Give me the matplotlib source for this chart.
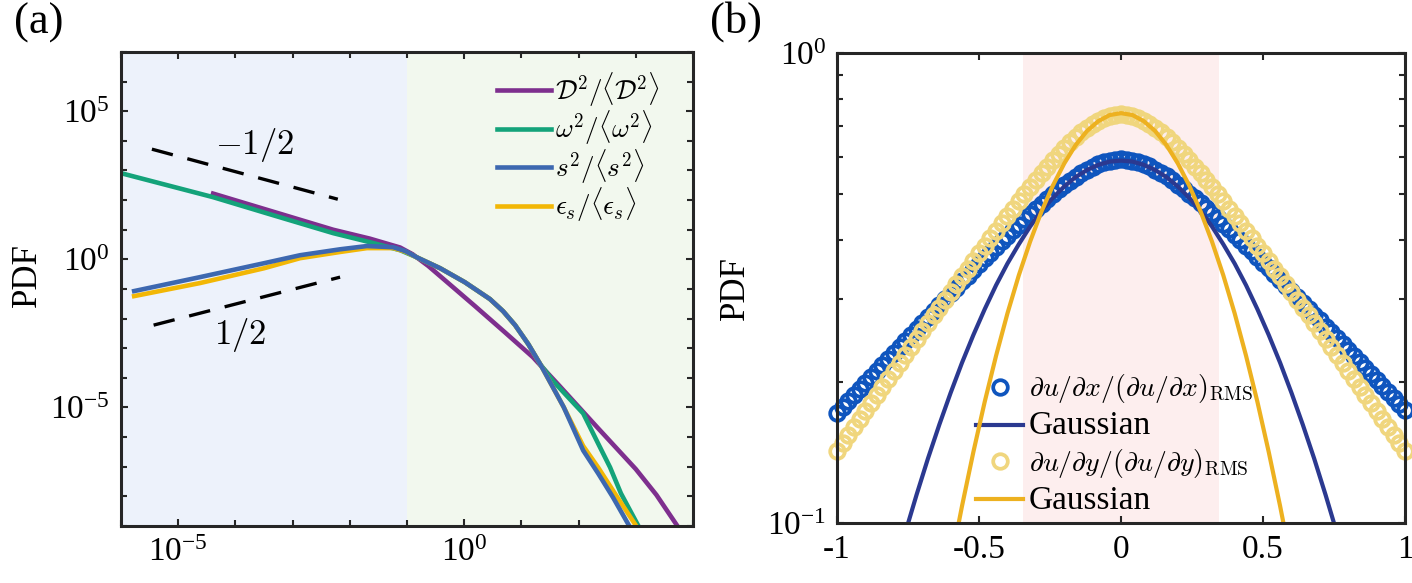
import numpy as np
import matplotlib
matplotlib.use('Agg')
from matplotlib import pyplot as plt
from matplotlib.ticker import NullFormatter, FixedLocator

plt.rcParams['font.family'] = ['Liberation Serif', 'DejaVu Serif']
plt.rcParams['mathtext.fontset'] = 'cm'
plt.rcParams['axes.unicode_minus'] = False

# ---------------- panel (a) data, log10 units ----------------
D2_logx = [-4.39, -3.34, -2.29, -1.65, -1.12, -0.90, -0.63, -0.34, 0.19, 0.71, 1.20, 1.67, 2.34, 3.00, 3.36, 3.72]
D2_logy = [2.22, 1.61, 1.00, 0.70, 0.40, 0.17, -0.22, -0.70, -1.58, -2.46, -3.30, -4.28, -5.70, -7.08, -7.95, -8.98]

w2_logx = [-6.0, -4.39, -3.34, -2.29, -1.65, -1.12, -0.83, -0.42, 0.01, 0.45, 0.68, 0.89, 1.12, 1.33,
           1.55, 1.80, 2.08, 2.35, 2.55, 2.74, 3.04]
w2_logy = [2.91, 2.10, 1.49, 0.885, 0.58, 0.31, 0.07, -0.30, -0.77, -1.34, -1.75, -2.22, -2.86, -3.54,
           -4.10, -4.62, -5.20, -6.25, -7.02, -7.90, -8.98]

s2_logx = [-5.77, -4.62, -3.5, -2.87, -2.17, -1.70, -1.24, -1.03, -0.83, -0.42, 0.01, 0.45, 0.68, 0.89,
           1.12, 1.33, 1.54, 1.74, 2.08, 2.34, 2.60, 2.88]
s2_logy = [-1.07, -0.60, -0.13, 0.14, 0.34, 0.45, 0.41, 0.28, 0.07, -0.30, -0.77, -1.34, -1.75, -2.22,
           -2.86, -3.54, -4.28, -4.99, -6.45, -7.22, -8.03, -8.98]

eps_logx = [-5.77, -4.62, -3.5, -2.87, -2.17, -1.70, -1.24, -1.03, -0.83, -0.42, 0.01, 0.45, 0.68, 0.89,
            1.12, 1.33, 1.54, 1.74, 2.08, 2.34, 2.65, 3.00]
eps_logy = [-1.24, -0.80, -0.30, 0.04, 0.25, 0.38, 0.38, 0.26, 0.07, -0.30, -0.77, -1.34, -1.75, -2.22,
            -2.86, -3.54, -4.28, -4.99, -6.30, -7.02, -7.95, -8.98]

# power law guides
slope_m_logx = [-5.46, -2.21]
slope_m_logy = [3.72, 2.03]
slope_p_logx = [-5.43, -2.17]
slope_p_logy = [-2.22, -0.60]

labels_a = [r'$\mathcal{D}^2/\langle\mathcal{D}^2\rangle$', r'$\omega^2/\langle\omega^2\rangle$',
            r'$s^2/\langle s^2\rangle$', r'$\epsilon_s/\langle\epsilon_s\rangle$']
colors_a = ['#7E2F8E', '#14A37A', '#3D68B0', '#F2B705']

# ---------------- panel (b) data ----------------
x_grad = np.linspace(-1, 1, 101)
dudx_logpdf = [-0.767, -0.754, -0.741, -0.728, -0.715, -0.703, -0.690, -0.677, -0.664, -0.651,
               -0.638, -0.625, -0.613, -0.600, -0.587, -0.575, -0.562, -0.549, -0.537, -0.524,
               -0.511, -0.499, -0.486, -0.474, -0.462, -0.449, -0.437, -0.425, -0.413, -0.401,
               -0.389, -0.377, -0.366, -0.354, -0.343, -0.332, -0.321, -0.311, -0.300, -0.290,
               -0.281, -0.272, -0.263, -0.255, -0.248, -0.242, -0.236, -0.232, -0.229, -0.227,
               -0.226,
               -0.227, -0.229, -0.232, -0.236, -0.241, -0.248, -0.255, -0.262, -0.271, -0.280,
               -0.289, -0.299, -0.309, -0.320, -0.330, -0.341, -0.352, -0.364, -0.375, -0.387,
               -0.398, -0.410, -0.422, -0.434, -0.446, -0.458, -0.470, -0.482, -0.495, -0.507,
               -0.519, -0.532, -0.544, -0.557, -0.569, -0.582, -0.594, -0.607, -0.619, -0.632,
               -0.645, -0.657, -0.670, -0.683, -0.695, -0.708, -0.721, -0.733, -0.746, -0.759]
dudy_logpdf = [-0.847, -0.830, -0.813, -0.796, -0.779, -0.762, -0.745, -0.728, -0.711, -0.694,
               -0.677, -0.660, -0.643, -0.626, -0.609, -0.592, -0.575, -0.558, -0.542, -0.525,
               -0.508, -0.492, -0.475, -0.459, -0.442, -0.426, -0.410, -0.394, -0.378, -0.362,
               -0.346, -0.331, -0.315, -0.300, -0.285, -0.271, -0.256, -0.242, -0.228, -0.215,
               -0.202, -0.190, -0.179, -0.169, -0.159, -0.151, -0.144, -0.138, -0.134, -0.131,
               -0.130,
               -0.131, -0.134, -0.138, -0.144, -0.151, -0.159, -0.169, -0.179, -0.190, -0.202,
               -0.215, -0.228, -0.242, -0.256, -0.271, -0.285, -0.300, -0.315, -0.331, -0.346,
               -0.362, -0.378, -0.394, -0.410, -0.426, -0.442, -0.459, -0.475, -0.492, -0.508,
               -0.525, -0.542, -0.558, -0.575, -0.592, -0.609, -0.626, -0.643, -0.660, -0.677,
               -0.694, -0.711, -0.728, -0.745, -0.762, -0.779, -0.796, -0.813, -0.830, -0.847]

x_gauss_x = np.linspace(-0.76, 0.76, 39)
gauss_x_logpdf = [-1.021, -0.940, -0.863, -0.791, -0.723, -0.659, -0.600, -0.545, -0.494, -0.448,
                  -0.407, -0.369, -0.336, -0.308, -0.284, -0.264, -0.249, -0.238, -0.231, -0.229,
                  -0.231, -0.238, -0.249, -0.264, -0.284, -0.308, -0.336, -0.369, -0.407, -0.448,
                  -0.494, -0.545, -0.600, -0.659, -0.723, -0.791, -0.863, -0.940, -1.021]
x_gauss_y = np.linspace(-0.60, 0.60, 31)
gauss_y_logpdf = [-1.087, -0.964, -0.849, -0.742, -0.644, -0.554, -0.473, -0.401, -0.337, -0.282,
                  -0.235, -0.196, -0.166, -0.145, -0.132, -0.128, -0.132, -0.145, -0.166, -0.196,
                  -0.235, -0.282, -0.337, -0.401, -0.473, -0.554, -0.644, -0.742, -0.849, -0.964,
                  -1.087]
shade_b = [-0.345, 0.345]

labels_b = [r'$\partial u/\partial x/(\partial u/\partial x)_{\mathrm{RMS}}$', 'Gaussian',
            r'$\partial u/\partial y/(\partial u/\partial y)_{\mathrm{RMS}}$', 'Gaussian']


fig = plt.figure(figsize=(14.12, 5.83), dpi=100)
axcol = '#262626'
tick_fs = 24

# ================= (a) =================
ax1 = fig.add_axes([0.0857, 0.0978, 0.4051, 0.8130])
ax1.set_xscale('log')
ax1.set_yscale('log')
ax1.set_xlim(1e-6, 1e4)
ax1.set_ylim(1e-9, 1e7)
ax1.axvspan(1e-6, 1e-1, color='#EDF2FB', zorder=0, lw=0)
ax1.axvspan(1e-1, 1e4, color='#F2F8EE', zorder=0, lw=0)

curves = [(D2_logx, D2_logy), (w2_logx, w2_logy), (s2_logx, s2_logy), (eps_logx, eps_logy)]
handles = []
zord = [2, 3, 5, 4]  # blue sits on top of yellow in the original
for (lx, ly), c, lab, z in zip(curves, colors_a, labels_a, zord):
    h, = ax1.plot(10.0**np.array(lx), 10.0**np.array(ly), color=c, lw=3.3, label=lab, zorder=z)
    handles.append(h)
ax1.plot(10.0**np.array(slope_m_logx), 10.0**np.array(slope_m_logy), 'k--', lw=2.4, dashes=(6.5, 4.5))
ax1.plot(10.0**np.array(slope_p_logx), 10.0**np.array(slope_p_logy), 'k--', lw=2.4, dashes=(6.5, 4.5))
ax1.text(10**-3.67, 10**3.86, r'$-1/2$', fontsize=25, ha='center', va='center')
ax1.text(10**-3.92, 10**-2.56, r'$1/2$', fontsize=25, ha='center', va='center')

ax1.xaxis.set_major_locator(FixedLocator([1e-5, 1e0]))
ax1.xaxis.set_minor_locator(FixedLocator([10.0**k for k in range(-6, 5)]))
ax1.set_xticklabels([r'$\mathregular{10^{-5}}$', r'$\mathregular{10^{0}}$'])
ax1.xaxis.set_minor_formatter(NullFormatter())
ax1.yaxis.set_major_locator(FixedLocator([1e-5, 1e0, 1e5]))
ax1.yaxis.set_minor_locator(FixedLocator([10.0**k for k in range(-9, 8)]))
ax1.set_yticklabels([r'$\mathregular{10^{-5}}$', r'$\mathregular{10^{0}}$', r'$\mathregular{10^{5}}$'])
ax1.yaxis.set_minor_formatter(NullFormatter())
ax1.set_ylabel('PDF', fontsize=25)
ax1.yaxis.set_label_coords(-0.135, 0.53)

leg = ax1.legend(handles=handles, loc='upper left', bbox_to_anchor=(0.633, 0.99), frameon=False,
                 fontsize=19.5, handlelength=2.0, handletextpad=0.15, labelspacing=0.0, borderpad=0)

# ================= (b) =================
ax2 = fig.add_axes([0.5928, 0.1029, 0.4023, 0.8062])
ax2.set_yscale('log')
ax2.set_xlim(-1, 1)
ax2.set_ylim(0.1, 1)
ax2.axvspan(shade_b[0], shade_b[1], color='#FDEEEE', zorder=0, lw=0)

h1, = ax2.plot(x_grad, 10.0**np.array(dudx_logpdf), 'o', ms=10.5, mfc='none', mec='#0F55BE', mew=2.7,
               clip_on=False, zorder=3)
h2, = ax2.plot(x_gauss_x, 10.0**np.array(gauss_x_logpdf), color='#2B3990', lw=3, zorder=4)
h3, = ax2.plot(x_grad, 10.0**np.array(dudy_logpdf), 'o', ms=10.5, mfc='none', mec='#F0D67E', mew=2.7,
               clip_on=False, zorder=5)
h4, = ax2.plot(x_gauss_y, 10.0**np.array(gauss_y_logpdf), color='#EDB120', lw=3, zorder=6)

ax2.set_xticks([-1, -0.5, 0, 0.5, 1])
ax2.set_xticklabels(['-1', '-0.5', '0', '0.5', '1'])
ax2.set_yticks([0.1, 1])
ax2.set_yticklabels([r'$\mathregular{10^{-1}}$', r'$\mathregular{10^{0}}$'])
ax2.yaxis.set_minor_locator(FixedLocator([0.2, 0.3, 0.4, 0.5, 0.6, 0.7, 0.8, 0.9]))
ax2.yaxis.set_minor_formatter(NullFormatter())
ax2.set_ylabel('PDF', fontsize=25)
ax2.yaxis.set_label_coords(-0.15, 0.5)

leg2 = ax2.legend([h1, h2, h3, h4], labels_b, loc='upper left', bbox_to_anchor=(0.22, 0.35), frameon=False,
                  fontsize=20, handlelength=1.7, handletextpad=0.2, labelspacing=0.2, borderpad=0)
for t in leg2.get_texts():
    if t.get_text() == 'Gaussian':
        t.set_fontsize(24)

for ax in [ax1, ax2]:
    for sp in ax.spines.values():
        sp.set_linewidth(2.2)
        sp.set_color(axcol)
        sp.set_zorder(10)
    ax.tick_params(which='both', direction='in', top=True, right=True, width=1.5, color=axcol,
                   labelsize=tick_fs, labelcolor='black')
    ax.tick_params(which='major', length=5, pad=8)
    ax.tick_params(which='minor', length=4)

fig.text(0.010, 0.995, '(a)', fontsize=32, va='top', ha='left')
fig.text(0.503, 0.998, '(b)', fontsize=32, va='top', ha='left')

fig.savefig('out.png', dpi=100)
